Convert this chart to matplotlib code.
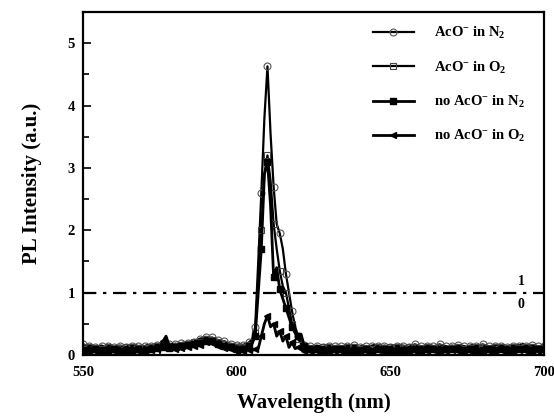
import numpy as np
import matplotlib
matplotlib.use('Agg')
import matplotlib.pyplot as plt
from matplotlib.ticker import MultipleLocator

plt.rcParams['font.family'] = ['Liberation Serif', 'DejaVu Serif']
plt.rcParams['font.weight'] = 'bold'
plt.rcParams['axes.labelweight'] = 'bold'
plt.rcParams['mathtext.fontset'] = 'custom'
plt.rcParams['mathtext.rm'] = 'Liberation Serif:bold'
plt.rcParams['mathtext.it'] = 'Liberation Serif:bold'
plt.rcParams['mathtext.bf'] = 'Liberation Serif:bold'

# wavelength grid, 1 nm steps
wavelength = np.arange(550, 701, 1)

aco_n2 = [
    0.17, 0.15, 0.14, 0.15, 0.13, 0.14, 0.15, 0.13, 0.14, 0.15,
    0.13, 0.14, 0.15, 0.14, 0.13, 0.15, 0.14, 0.16, 0.14, 0.15,
    0.14, 0.16, 0.15, 0.17, 0.16, 0.18, 0.17, 0.22, 0.18, 0.17,
    0.18, 0.17, 0.19, 0.20, 0.19, 0.22, 0.21, 0.24, 0.26, 0.27,
    0.29, 0.27, 0.28, 0.25, 0.24, 0.21, 0.22, 0.19, 0.18, 0.17,
    0.16, 0.17, 0.16, 0.18, 0.20, 0.25, 0.45, 1.50, 2.60, 3.80,
    4.63, 3.55, 2.70, 2.10, 1.95, 1.70, 1.30, 1.00, 0.70, 0.45,
    0.30, 0.20, 0.16, 0.15, 0.14, 0.13, 0.15, 0.14, 0.13, 0.14,
    0.15, 0.13, 0.14, 0.15, 0.14, 0.13, 0.15, 0.14, 0.16, 0.14,
    0.13, 0.15, 0.14, 0.13, 0.15, 0.16, 0.14, 0.13, 0.15, 0.14,
    0.13, 0.15, 0.14, 0.16, 0.15, 0.14, 0.13, 0.15, 0.17, 0.15,
    0.14, 0.13, 0.15, 0.16, 0.14, 0.15, 0.17, 0.15, 0.14, 0.13,
    0.15, 0.14, 0.16, 0.15, 0.14, 0.13, 0.15, 0.16, 0.14, 0.15,
    0.17, 0.15, 0.14, 0.13, 0.15, 0.16, 0.14, 0.15, 0.13, 0.15,
    0.14, 0.16, 0.15, 0.18, 0.15, 0.14, 0.16, 0.15, 0.14, 0.13,
    0.14]

aco_o2 = [
    0.12, 0.11, 0.12, 0.10, 0.11, 0.12, 0.10, 0.11, 0.12, 0.11,
    0.10, 0.12, 0.11, 0.10, 0.12, 0.11, 0.12, 0.10, 0.11, 0.12,
    0.11, 0.12, 0.13, 0.12, 0.14, 0.13, 0.15, 0.18, 0.14, 0.13,
    0.15, 0.14, 0.16, 0.15, 0.18, 0.17, 0.20, 0.22, 0.21, 0.24,
    0.25, 0.23, 0.24, 0.21, 0.20, 0.18, 0.17, 0.15, 0.14, 0.13,
    0.12, 0.13, 0.12, 0.14, 0.16, 0.20, 0.35, 1.20, 2.00, 2.90,
    3.20, 2.80, 2.10, 1.70, 1.35, 1.10, 1.00, 0.75, 0.50, 0.35,
    0.25, 0.18, 0.13, 0.12, 0.11, 0.12, 0.10, 0.11, 0.12, 0.11,
    0.12, 0.10, 0.11, 0.12, 0.11, 0.10, 0.12, 0.11, 0.13, 0.11,
    0.10, 0.12, 0.11, 0.12, 0.10, 0.11, 0.13, 0.12, 0.11, 0.10,
    0.12, 0.11, 0.12, 0.13, 0.11, 0.10, 0.12, 0.11, 0.12, 0.13,
    0.11, 0.10, 0.12, 0.13, 0.11, 0.12, 0.13, 0.11, 0.10, 0.12,
    0.11, 0.12, 0.13, 0.11, 0.10, 0.12, 0.11, 0.13, 0.12, 0.11,
    0.12, 0.13, 0.11, 0.10, 0.12, 0.11, 0.13, 0.12, 0.11, 0.12,
    0.13, 0.12, 0.11, 0.14, 0.12, 0.11, 0.12, 0.13, 0.11, 0.10,
    0.12]

noaco_n2 = [
    0.08, 0.09, 0.07, 0.08, 0.09, 0.07, 0.08, 0.09, 0.08, 0.07,
    0.09, 0.08, 0.07, 0.09, 0.08, 0.09, 0.07, 0.08, 0.09, 0.08,
    0.07, 0.09, 0.10, 0.08, 0.11, 0.10, 0.12, 0.16, 0.11, 0.10,
    0.12, 0.11, 0.14, 0.13, 0.16, 0.15, 0.18, 0.20, 0.19, 0.22,
    0.23, 0.21, 0.22, 0.19, 0.17, 0.16, 0.14, 0.13, 0.12, 0.11,
    0.10, 0.11, 0.10, 0.12, 0.14, 0.18, 0.30, 1.00, 1.70, 2.90,
    3.10, 2.40, 1.25, 1.40, 1.05, 0.90, 0.75, 0.60, 0.45, 0.35,
    0.30, 0.32, 0.14, 0.10, 0.09, 0.08, 0.09, 0.07, 0.08, 0.09,
    0.08, 0.07, 0.09, 0.08, 0.10, 0.08, 0.07, 0.09, 0.08, 0.09,
    0.07, 0.08, 0.09, 0.08, 0.07, 0.09, 0.10, 0.08, 0.09, 0.07,
    0.08, 0.09, 0.07, 0.10, 0.08, 0.09, 0.08, 0.07, 0.09, 0.10,
    0.08, 0.07, 0.09, 0.08, 0.10, 0.09, 0.08, 0.07, 0.09, 0.08,
    0.10, 0.08, 0.09, 0.07, 0.08, 0.10, 0.09, 0.08, 0.07, 0.09,
    0.08, 0.10, 0.09, 0.07, 0.08, 0.09, 0.10, 0.08, 0.07, 0.09,
    0.08, 0.09, 0.10, 0.08, 0.09, 0.07, 0.08, 0.10, 0.09, 0.08,
    0.09]

noaco_o2 = [
    0.06, 0.07, 0.05, 0.06, 0.07, 0.05, 0.06, 0.07, 0.06, 0.05,
    0.07, 0.06, 0.05, 0.07, 0.06, 0.07, 0.05, 0.06, 0.07, 0.06,
    0.05, 0.07, 0.08, 0.06, 0.09, 0.12, 0.22, 0.30, 0.15, 0.08,
    0.09, 0.08, 0.11, 0.10, 0.13, 0.12, 0.15, 0.17, 0.16, 0.19,
    0.20, 0.18, 0.19, 0.16, 0.14, 0.13, 0.11, 0.10, 0.09, 0.08,
    0.07, 0.08, 0.07, 0.09, 0.08, 0.07, 0.09, 0.10, 0.30, 0.50,
    0.63, 0.45, 0.50, 0.30, 0.38, 0.22, 0.30, 0.12, 0.20, 0.10,
    0.12, 0.08, 0.07, 0.06, 0.07, 0.05, 0.06, 0.07, 0.05, 0.06,
    0.07, 0.05, 0.06, 0.07, 0.06, 0.05, 0.07, 0.06, 0.05, 0.07,
    0.06, 0.05, 0.07, 0.06, 0.05, 0.07, 0.08, 0.06, 0.05, 0.07,
    0.06, 0.07, 0.05, 0.08, 0.06, 0.07, 0.05, 0.06, 0.07, 0.08,
    0.06, 0.05, 0.07, 0.06, 0.08, 0.07, 0.06, 0.05, 0.07, 0.06,
    0.08, 0.06, 0.07, 0.05, 0.06, 0.08, 0.07, 0.06, 0.05, 0.07,
    0.06, 0.08, 0.07, 0.05, 0.06, 0.07, 0.08, 0.06, 0.05, 0.07,
    0.06, 0.07, 0.08, 0.06, 0.07, 0.05, 0.06, 0.08, 0.07, 0.06,
    0.07]

labels = [r'AcO$^{-}$ in N$_{2}$', r'AcO$^{-}$ in O$_{2}$',
          r'no AcO$^{-}$ in N$_{2}$', r'no AcO$^{-}$ in O$_{2}$']
threshold = 1.0

fig = plt.figure(figsize=(5.54, 4.18), dpi=100)
ax = fig.add_axes([0.150, 0.151, 0.832, 0.820])

ax.plot(wavelength, aco_n2, color='k', lw=1.6, marker='o', ms=5, mfc='none',
        mec='#555555', mew=0.8, markevery=2, label=labels[0])
ax.plot(wavelength, aco_o2, color='k', lw=1.6, marker='s', ms=4.5, mfc='none',
        mec='#444444', mew=0.8, markevery=2, label=labels[1])
ax.plot(wavelength, noaco_n2, color='k', lw=2.0, marker='s', ms=4.5, mfc='k',
        mec='k', markevery=2, label=labels[2])
ax.plot(wavelength, noaco_o2, color='k', lw=2.0, marker='<', ms=5, mfc='k',
        mec='k', markevery=2, label=labels[3])

ax.axhline(threshold, color='k', lw=1.6, ls=(0, (6, 3, 1.5, 3)))
ax.text(692.5, threshold + 0.08, '1', ha='center', va='bottom',
        fontsize=10, fontweight='bold')
ax.text(692.5, threshold - 0.08, '0', ha='center', va='top',
        fontsize=10, fontweight='bold')

ax.set_xlim(550, 700)
ax.set_ylim(0, 5.5)
ax.xaxis.set_major_locator(MultipleLocator(50))
ax.xaxis.set_minor_locator(MultipleLocator(25))
ax.yaxis.set_major_locator(MultipleLocator(1))
ax.yaxis.set_minor_locator(MultipleLocator(0.5))
ax.tick_params(which='both', direction='in', labelsize=10.5, width=1.2)
ax.tick_params(which='major', length=6)
ax.tick_params(axis='x', pad=8)
ax.tick_params(axis='y', pad=6)
ax.tick_params(which='minor', length=4)
for lab in ax.get_xticklabels() + ax.get_yticklabels():
    lab.set_fontweight('bold')
for s in ax.spines.values():
    s.set_linewidth(1.6)

ax.set_xlabel('Wavelength (nm)', fontsize=15, fontweight='bold', labelpad=10)
ax.set_ylabel('PL Intensity (a.u.)', fontsize=15, fontweight='bold', labelpad=18)

leg = ax.legend(loc='upper left', bbox_to_anchor=(0.6, 1.0), frameon=False,
                fontsize=10.5, handlelength=2.8, labelspacing=1.25,
                handletextpad=1.4)
for t in leg.get_texts():
    t.set_fontweight('bold')

fig.savefig('out.png', dpi=100)
